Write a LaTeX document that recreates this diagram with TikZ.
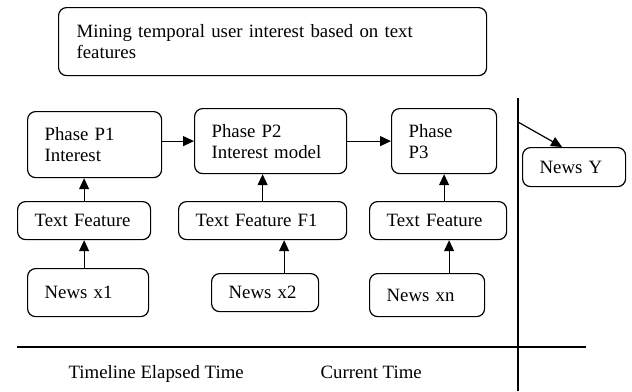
\documentclass[tikz,border=0pt]{standalone}
\usepackage{fontspec}
\setmainfont{Liberation Serif}
\usetikzlibrary{arrows.meta}

\begin{document}
\begin{tikzpicture}[x = 1pt, y = -1pt, line width = 1.2pt,
    > = {Triangle[length=11pt,width=10pt]},
    every node/.style = {font=\fontsize{18.8}{21}\selectfont},
    box/.style = {draw, rounded corners=8pt, anchor=north west, align=left,
                  inner xsep=17pt, inner ysep=0pt}]
    \useasboundingbox (0,0) rectangle (632,391);
    % title
    \node [box, text width=392pt, minimum height=68pt, inner xsep=18pt] (title) at (58,7)
      {Mining temporal user interest based on text\\features\\[-6pt]};
    % phases
    \node [box, text width=100pt, minimum height=66pt] (p1) at (27,111) {Phase P1\\Interest};
    \node [box, text width=118pt, minimum height=65pt] (p2) at (194,108) {Phase P2\\Interest model};
    \node [box, text width=71pt, minimum height=65pt] (p3) at (391,108) {Phase\\P3};
    \node [box, text width=69pt, minimum height=39pt] (ny) at (522,147) {News Y};
    % text features
    \node [box, text width=99pt, minimum height=38pt] (tf1) at (17,201) {Text Feature};
    \node [box, text width=134pt, minimum height=38pt] (tf2) at (178,201) {Text Feature F1};
    \node [box, text width=103pt, minimum height=38pt] (tf3) at (369,201) {Text Feature};
    % news
    \node [box, text width=87pt, minimum height=48pt] (x1) at (27,268) {News x1};
    \node [box, text width=73pt, minimum height=38pt] (x2) at (211,273) {News x2};
    \node [box, text width=81pt, minimum height=43pt] (xn) at (369,273) {News xn};
    % time axes
    \coordinate (vtop) at (518,98);
    \coordinate (vbot) at (518,391);
    \coordinate (hl) at (17,347);
    \coordinate (hr) at (586,347);
    \coordinate (ys) at (518,122);
    \draw (vtop) -- (vbot);
    \draw (hl) -- (hr);
    \node [anchor=base west, inner sep=0pt] (elapsed) at (68,378) {Timeline Elapsed Time};
    \node [anchor=base west, inner sep=0pt] (current) at (320,378) {Current Time};
    % arrows
    \draw [->] (p1.east |- p2.west) -- (p2.west);
    \draw [->] (p2.east) -- (p2.east -| p3.west);
    \draw [->] (tf1.north) -- (tf1.north |- p1.south);
    \draw [->] (x1.north -| tf1.north) -- (tf1.south);
    \draw [->] (tf2.north) -- (tf2.north |- p2.south);
    \draw [->] ([xshift=19pt]x2.north) -- ([xshift=19pt]x2.north |- tf2.south);
    \draw [->] (p3.south |- tf3.north) -- (p3.south);
    \draw [->] ([xshift=22pt]xn.north) -- ([xshift=22pt]xn.north |- tf3.south);
    \draw [->] (ys) -- ([xshift=-12pt]ny.north);
\end{tikzpicture}
\end{document}
